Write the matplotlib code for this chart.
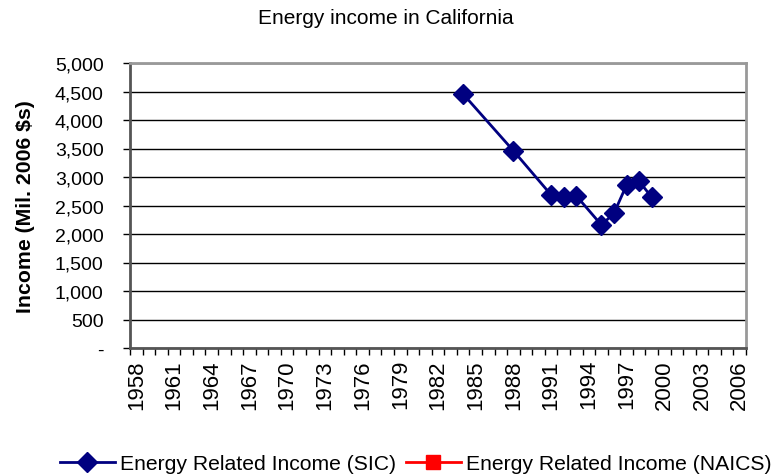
import matplotlib
matplotlib.use("Agg")
import matplotlib.pyplot as plt
from matplotlib.ticker import FuncFormatter, FixedLocator

plt.rcParams['font.family'] = ['Liberation Sans', 'DejaVu Sans']

# data
years_sic = [1984, 1988, 1991, 1992, 1993, 1995, 1996, 1997, 1998, 1999]
income_sic = [4455, 3460, 2685, 2645, 2670, 2158, 2365, 2860, 2925, 2645]
years_naics = []
income_naics = []
first_year = 1958
last_year = 2006
label_years = list(range(1958, 2007, 3))

n_cat = last_year - first_year + 1

fig = plt.figure(figsize=(7.83, 4.77), dpi=100)
ax = fig.add_axes([130 / 783, 1 - 349 / 477, (746 - 130) / 783, (349 - 64) / 477])

# category axis: each year sits in the middle of its slot
x_sic = [y - first_year + 0.5 for y in years_sic]
x_naics = [y - first_year + 0.5 for y in years_naics]
ax.plot(x_sic, income_sic, color='#000080', lw=2, marker='D', ms=10,
        label='Energy Related Income (SIC)', zorder=3)
ax.plot(x_naics, income_naics, color='#FF0000', lw=2, marker='s', ms=10,
        label='Energy Related Income (NAICS)', zorder=3)

ax.set_xlim(0, n_cat)
ax.set_ylim(0, 5000)

# y axis
ax.set_yticks(range(0, 5001, 500))
ax.yaxis.set_major_formatter(FuncFormatter(lambda v, p: '-' if v == 0 else f'{int(v):,}'))
ax.tick_params(axis='y', direction='out', length=5, width=1, labelsize=14, pad=14)
ax.yaxis.grid(True, color='black', lw=1)
ax.set_axisbelow(True)
ax.set_ylabel('Income (Mil. 2006 $s)', fontsize=15.3, fontweight='bold', labelpad=14)

# x axis: tick marks at slot borders, labels at slot centres
ax.xaxis.set_major_locator(FixedLocator(range(0, n_cat + 1)))
ax.xaxis.set_major_formatter(FuncFormatter(lambda v, p: ''))
ax.xaxis.set_minor_locator(FixedLocator([y - first_year + 0.5 for y in label_years]))
ax.set_xticklabels([str(y) for y in label_years], minor=True, rotation=90, fontsize=16)
ax.tick_params(axis='x', which='major', direction='out', length=5, width=1)
ax.tick_params(axis='x', which='minor', length=0, pad=8)

for side in ['left', 'bottom']:
    ax.spines[side].set_color('#555555')
    ax.spines[side].set_linewidth(2)
for side in ['top', 'right']:
    ax.spines[side].set_color('#999999')
    ax.spines[side].set_linewidth(2)

fig.text(386 / 783, 1 - 18 / 477, 'Energy income in California', fontsize=15,
         ha='center', va='center')

fig.legend(loc='center left', bbox_to_anchor=(60 / 783, 1 - 465 / 477), ncol=2,
           frameon=False, fontsize=15.2, borderpad=0, borderaxespad=0,
           handlelength=2.6, handletextpad=0.25, columnspacing=0.45)

fig.savefig('out.png', dpi=100)
